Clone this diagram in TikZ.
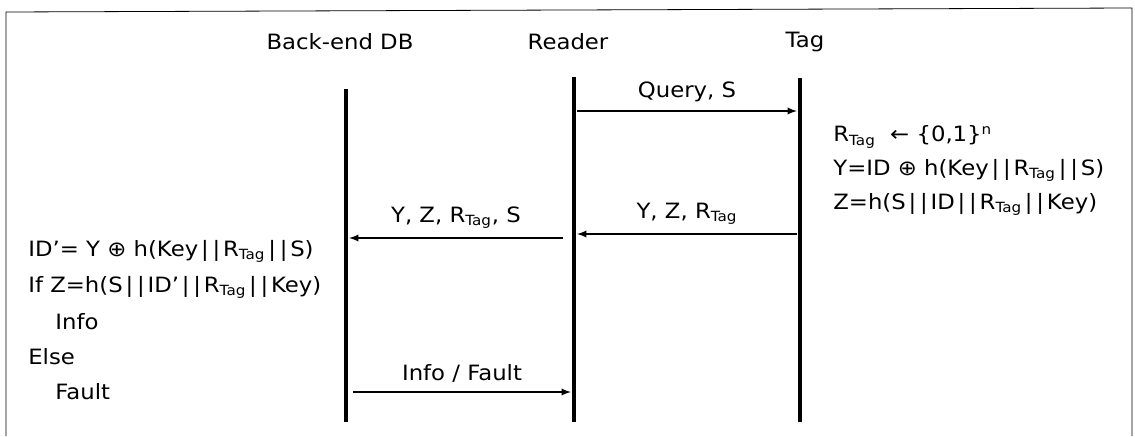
\documentclass[tikz,border=0pt]{standalone}
\usepackage{fontspec}
\setmainfont{DejaVu Sans}[FakeStretch=1.08]
\usetikzlibrary{calc}

\newcommand{\rtag}{R\textsubscript{Tag}}
\newcommand{\cat}{\kern1.6pt|\kern2.2pt|\kern1.6pt}

\begin{document}
\begin{tikzpicture}[x=0.02cm,y=-0.02cm,
                    life/.style={line width=0.08cm},
                    msg/.style={line width=0.03cm,-latex},
                    txt/.style={anchor=west,inner sep=0pt}]
                        \useasboundingbox (0,0) rectangle (1135,436);
                        {\fontsize{12}{14}\selectfont

                        % Drawing frame
                        \draw [line width=0.016cm] (6,436) -- (6,12) -- (1132,8) -- (1132,436);%

                        % Drawing headers
                        \node (dbhead) at (340,42) {Back-end DB};%
                        \node (rdhead) at (568,42) {Reader};%
                        \node (taghead) at (805,42) {Tag};%

                        % Drawing lifeline DB
                        \coordinate (dbtop) at (346,89);%
                        \coordinate (dbbot) at (346,422);%
                        \draw [life] (dbtop) -- (dbbot);%

                        % Drawing lifeline Reader
                        \coordinate (rdtop) at (574,77);%
                        \coordinate (rdbot) at (574,422);%
                        \draw [life] (rdtop) -- (rdbot);%

                        % Drawing lifeline Tag
                        \coordinate (tagtop) at (800,78);%
                        \coordinate (tagbot) at (800,422);%
                        \draw [life] (tagtop) -- (tagbot);%

                        % Message Reader -> Tag
                        \coordinate (qfrom) at (577,111);%
                        \coordinate (qto) at (797,111);%
                        \draw [msg] (qfrom) -- (qto) node [midway,above=1pt] (qlab) {Query, S};%

                        % Message Tag -> Reader
                        \coordinate (yfrom) at (797,234);%
                        \coordinate (yto) at (577,234);%
                        \draw [msg] (yfrom) -- (yto) node [midway,above=1pt] (ylab) {Y, Z, \rtag};%

                        % Message Reader -> DB
                        \coordinate (sfrom) at (563,238);%
                        \coordinate (sto) at (349,238);%
                        \draw [msg] (sfrom) -- (sto) node [midway,above=1pt] (slab) {Y, Z, \rtag, S};%

                        % Message DB -> Reader
                        \coordinate (ifrom) at (353,392);%
                        \coordinate (ito) at (571,392);%
                        \draw [msg] (ifrom) -- (ito) node [midway,above=1pt] (ilab) {Info / Fault};%

                        % Tag computation
                        \node [txt] (tag1) at (833,137) {\rtag\ \ ← \{0,1\}\textsuperscript{n}};%
                        \node [txt] (tag2) at (833,170) {Y=ID ⊕ h(Key\cat\rtag\cat S)};%
                        \node [txt] (tag3) at (833,204) {Z=h(S\cat ID\cat\rtag\cat Key)};%

                        % DB computation
                        \node [txt] (db1) at (28,251) {ID’= Y ⊕ h(Key\cat\rtag\cat S)};%
                        \node [txt] (db2) at (28,287) {If Z=h(S\cat ID’\cat\rtag\cat Key)};%
                        \node [txt] (db3) at (55,322) {Info};%
                        \node [txt] (db4) at (28,357) {Else};%
                        \node [txt] (db5) at (55,392) {Fault};%
                        }
                    \end{tikzpicture}
\end{document}
